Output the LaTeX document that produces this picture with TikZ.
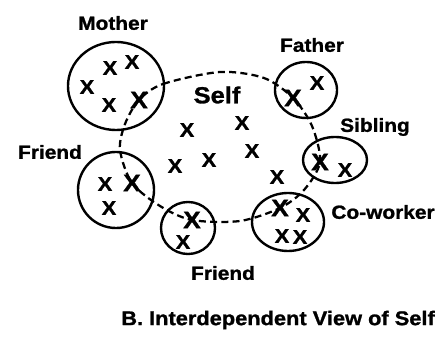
\documentclass[tikz,border=0pt]{standalone}
\usepackage{fontspec}
\setmainfont{Liberation Sans}[FakeStretch=1.1,BoldFeatures={FakeBold=1.2}]
\usetikzlibrary{shapes.geometric}
\begin{document}
\begin{tikzpicture}[x=0.025cm,y=-0.025cm,
  ring/.style={draw,ellipse,line width=1.7pt,inner sep=0pt},
  lab/.style={font=\fontsize{13.5}{14}\selectfont\bfseries,inner sep=0pt},
  xm/.style={font=\fontsize{14}{14}\selectfont\bfseries,inner sep=0pt},
  xb/.style={font=\fontsize{17}{17}\selectfont\bfseries,inner sep=0pt},
  selfline/.style={line width=1.6pt,dash pattern=on 5pt off 3pt}]
\useasboundingbox (0,0) rectangle (446,339);
% circles
\node[ring,minimum width=2.4cm,minimum height=2.2cm] (mother) at (116,86) {};
\node[ring,minimum width=1.55cm,minimum height=1.4cm] (father) at (306,90) {};
\node[ring,minimum width=1.6cm,minimum height=1.15cm] (sibling) at (335,160) {};
\node[ring,minimum width=1.8cm,minimum height=1.45cm] (cowork) at (288,222) {};
\node[ring,minimum width=1.35cm,minimum height=1.3cm] (friendb) at (188,228) {};
\node[ring,minimum width=1.9cm,minimum height=1.9cm] (friendl) at (116,190) {};
% labels
\node[lab] (lmother) at (113,23) {Mother};
\node[lab] (lfather) at (312,45) {Father};
\node[lab] (lsibling) at (375,127) {Sibling};
\node[lab] (lcowork) at (383,212) {Co-worker};
\node[lab] (lfriendb) at (223,273) {Friend};
\node[lab] (lfriendl) at (50,152) {Friend};
\node[font=\fontsize{16.5}{17}\selectfont\bfseries,inner sep=0pt] (lself) at (217,95) {Self};
\node[lab,font=\fontsize{14.1}{15}\selectfont\bfseries,anchor=west] (caption) at (121,320) {B. Interdependent View of Self};
% shared X marks
\node[xb] (mx) at (139,100) {X};
\node[xb] (fx) at (293,98) {X};
\node[xb] (sx) at (320,162) {X};
\node[xb] (cx) at (280,208) {X};
\node[xb] (bx) at (192,220) {X};
\node[xb] (lx) at (132,183) {X};
% other X marks
\node[xm] (m1) at (87,87) {X};
\node[xm] (m2) at (110,68) {X};
\node[xm] (m3) at (132,62) {X};
\node[xm] (m4) at (109,105) {X};
\node[xm] (f1) at (317,83) {X};
\node[xm] (s1) at (345,170) {X};
\node[xm] (c1) at (303,215) {X};
\node[xm] (c2) at (282,236) {X};
\node[xm] (c3) at (300,237) {X};
\node[xm] (b1) at (183,242) {X};
\node[xm] (l1) at (105,184) {X};
\node[xm] (l2) at (109,208) {X};
\node[xm] (o1) at (187,130) {X};
\node[xm] (o2) at (242,123) {X};
\node[xm] (o3) at (252,151) {X};
\node[xm] (o4) at (209,160) {X};
\node[xm] (o5) at (175,166) {X};
\node[xm] (o6) at (277,177) {X};
% self boundary
\coordinate (w1) at (163,84);
\coordinate (w2) at (220,72);
\coordinate (w3) at (264,78);
\coordinate (w4) at (312,126);
\coordinate (w5) at (304,190);
\coordinate (w6) at (240,221);
\coordinate (w7) at (160,206);
\coordinate (w8) at (120,150);
\coordinate (w9) at (125,124);
\draw[selfline] plot[smooth cycle,tension=0.5] coordinates {(mx.center) (w1) (w2) (w3) (fx.center) (w4) (sx.center) (w5) (cx.center) (w6) (bx.center) (w7) (lx.center) (w8) (w9)};
\end{tikzpicture}
\end{document}
